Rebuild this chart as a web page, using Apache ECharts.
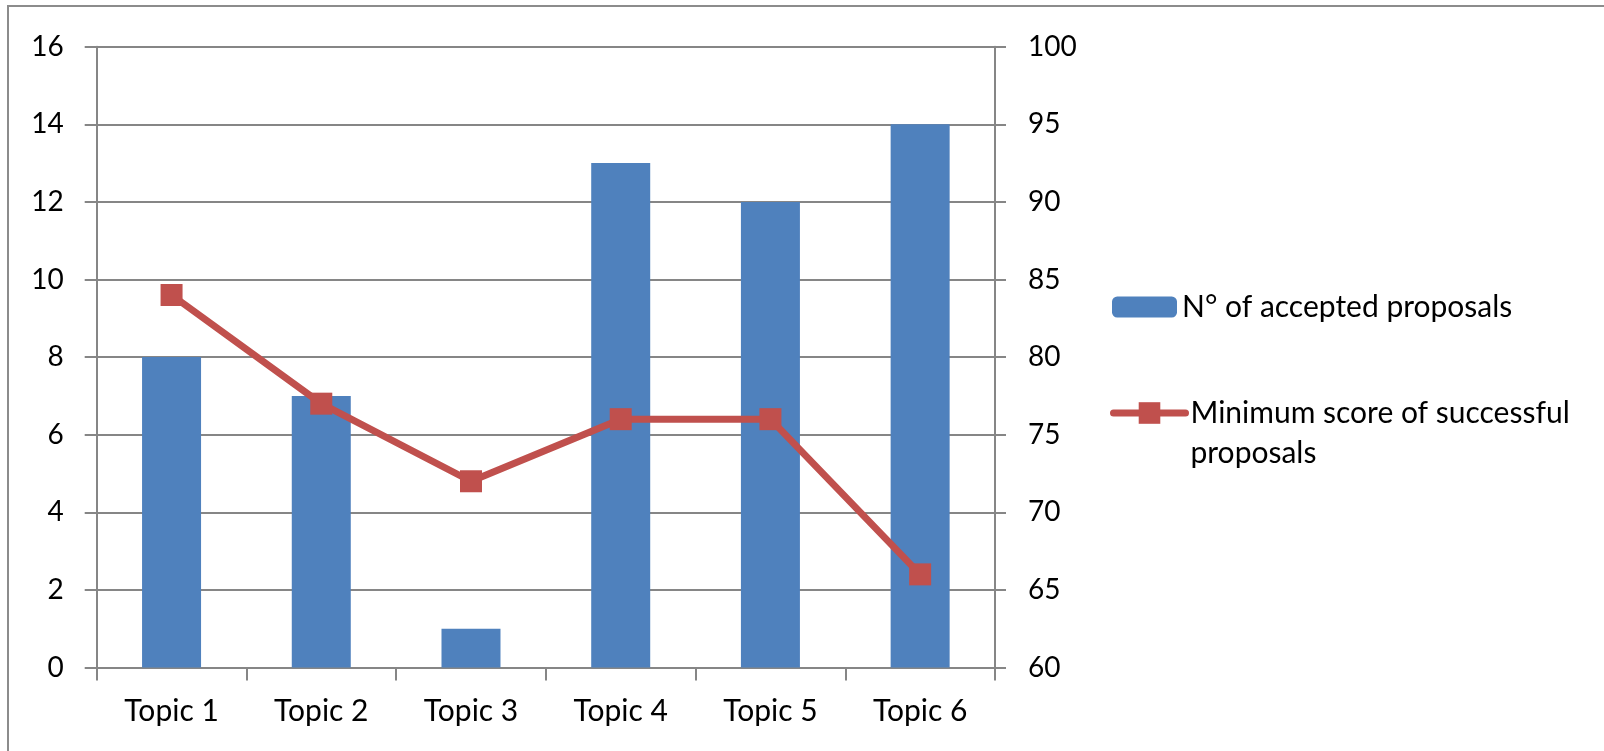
<!DOCTYPE html>
<html>
<head>
<meta charset="utf-8">
<style>
html,body{margin:0;padding:0;background:#fff;}
#c{width:1604px;height:751px;}
</style>
<script src="https://cdn.jsdelivr.net/npm/echarts@6/dist/echarts.min.js"></script>
</head>
<body>
<div id="c"></div>
<script>
const categories = ['Topic 1','Topic 2','Topic 3','Topic 4','Topic 5','Topic 6'];
const acceptedProposals = [8, 7, 1, 13, 12, 14];
const minScore = [84, 77, 72, 76, 76, 66];
const barName = 'N° of accepted proposals';
const lineName = 'Minimum score of successful\nproposals';

const FONT = 'Lato';
const FS = 28;
const FSX = 30;
const AX = '#868686';

const chart = echarts.init(document.getElementById('c'));
chart.setOption({
  animation: false,
  backgroundColor: '#fff',
  textStyle: {fontFamily: FONT},
  graphic: [{
    type: 'rect', silent: true, z: -10,
    shape: {x: 8, y: 6, width: 3000, height: 3000},
    style: {fill: 'none', stroke: '#8c8c8c', lineWidth: 2}
  }],
  grid: {left: 96.7, right: 1604 - 995, top: 46.7, bottom: 751 - 667.5, containLabel: false},
  legend: [{
    data: [{name: barName}],
    orient: 'vertical', left: 1112, top: 287, padding: 0,
    itemWidth: 65, itemHeight: 21,
    textStyle: {fontFamily: FONT, fontSize: FSX, color: '#000', lineHeight: 40},
    selectedMode: false
  }, {
    data: [{name: lineName}],
    orient: 'vertical', left: 1110, top: 353, padding: 0,
    itemWidth: 72, itemHeight: 27,
    lineStyle: {width: 7, cap: 'round'},
    formatter: function (n) { return ' \n' + n; },
    textStyle: {fontFamily: FONT, fontSize: FSX, color: '#000', lineHeight: 40},
    selectedMode: false
  }],
  xAxis: {
    type: 'category', data: categories, boundaryGap: true,
    axisLine: {lineStyle: {color: AX, width: 2}},
    axisTick: {show: true, length: 13, alignWithLabel: false, lineStyle: {color: AX, width: 2}},
    axisLabel: {fontFamily: FONT, fontSize: FSX, color: '#000', margin: 29}
  },
  yAxis: [{
    type: 'value', min: 0, max: 16, interval: 2, position: 'left',
    axisLine: {show: true, lineStyle: {color: AX, width: 2}},
    axisTick: {show: true, length: 12, lineStyle: {color: AX, width: 2}},
    splitLine: {show: true, lineStyle: {color: AX, width: 2}},
    axisLabel: {fontFamily: FONT, fontSize: FS, color: '#000', margin: 33}
  }, {
    type: 'value', min: 60, max: 100, interval: 5, position: 'right',
    axisLine: {show: true, lineStyle: {color: AX, width: 2}},
    axisTick: {show: true, length: 11, lineStyle: {color: AX, width: 2}},
    splitLine: {show: false},
    axisLabel: {fontFamily: FONT, fontSize: FS, color: '#000', margin: 33}
  }],
  series: [{
    name: barName, type: 'bar', data: acceptedProposals, yAxisIndex: 0,
    barWidth: 59, itemStyle: {color: '#4F81BD'}
  }, {
    name: lineName, type: 'line', data: minScore, yAxisIndex: 1,
    symbol: 'rect', symbolSize: 22, showSymbol: true,
    lineStyle: {color: '#C0504D', width: 7, cap: 'round'},
    itemStyle: {color: '#C0504D'}
  }]
});
</script>
</body>
</html>
